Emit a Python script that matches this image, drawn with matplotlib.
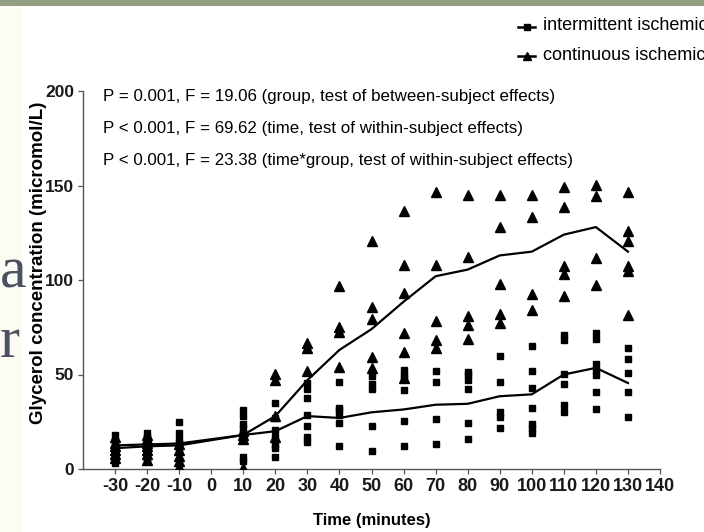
import matplotlib
matplotlib.use("Agg")
import matplotlib.pyplot as plt
from matplotlib.lines import Line2D
from matplotlib.patches import Rectangle

# ---------------- data ----------------
times = [-30, -20, -10, 10, 20, 30, 40, 50, 60, 70, 80, 90, 100, 110, 120, 130]

mean_intermittent = [11, 12, 12.5, 18, 20, 28, 27, 30, 31.5, 34, 34.5, 38.5, 39.5, 50, 53.5, 45.5]
mean_continuous = [12.5, 13, 13.5, 18, 28, 47, 63, 74, 88.5, 102, 105.5, 113, 115, 124, 128, 115]

points_intermittent = [
    [18, 15, 13, 11, 9, 7, 5, 3],
    [19, 17, 15, 13, 11, 9, 6, 4],
    [25, 19, 16, 14, 12, 10],
    [31, 28, 24, 21.5, 19, 17, 6.5, 4],
    [35, 27, 20.5, 17, 12.5, 11, 6.5],
    [45.5, 42.5, 37.5, 28.5, 22.5, 17, 14.5],
    [46, 32.5, 31, 28.5, 24.5, 12],
    [49, 45, 42.5, 23, 9.5],
    [52.5, 50, 48, 42, 25.5, 12],
    [52, 46, 26.5, 13],
    [51.5, 49.5, 47, 42.5, 24.5, 16],
    [60, 46, 30, 27.5, 21.5],
    [65, 52, 43, 32.5, 24, 21.5, 19],
    [71, 68, 50.5, 45, 34, 30],
    [72, 69, 55.5, 52.5, 50, 41, 32],
    [64, 58, 51, 41, 27.5],
]

points_continuous = [
    [17, 14, 12, 10, 8, 6],
    [18, 16, 14, 12, 10, 8, 5],
    [13, 10, 7, 4, 1],
    [20, 18, 16, 0.5],
    [50.5, 47, 28, 17],
    [66.5, 64, 52],
    [97, 75, 72.5, 54],
    [120.5, 85.5, 79.5, 59, 53.5],
    [136.5, 108, 93, 72, 62, 48],
    [146.5, 108, 78.5, 68.5, 64],
    [145, 112, 81, 76, 69],
    [145, 128, 98, 82, 77],
    [145, 133.5, 92.5, 84],
    [149, 138.5, 107.5, 103, 91.5],
    [150.5, 144.5, 111.5, 97.5],
    [146.5, 126, 120.5, 107.5, 104.5, 81.5],
]

xticks = list(range(-30, 141, 10))
yticks = [0, 50, 100, 150, 200]
stats_lines = [
    "P = 0.001, F = 19.06 (group, test of between-subject effects)",
    "P < 0.001, F = 69.62 (time, test of within-subject effects)",
    "P < 0.001, F = 23.38 (time*group, test of within-subject effects)",
]
legend_labels = ["intermittent ischemic", "continuous ischemic"]

# ---------------- figure ----------------
W, H = 704, 532
fig = plt.figure(figsize=(W / 100, H / 100), dpi=100)
fig.patch.set_facecolor("white")

# slide decorations
fig.add_artist(Rectangle((0, 1 - 6 / H), 1, 6 / H, transform=fig.transFigure,
                         facecolor="#939f83", edgecolor="none", zorder=0))
fig.add_artist(Rectangle((0, 0), 22 / W, 1 - 6 / H, transform=fig.transFigure,
                         facecolor="#fdfcf4", edgecolor="none", zorder=0))
for txt, ypx in [("a", 273), ("r", 343)]:
    fig.text(0 / W, 1 - ypx / H, txt, fontsize=43, family="Liberation Serif",
             color="#4a5262", ha="left", va="center")

ax = fig.add_axes([83 / W, 63 / H, (660 - 83) / W, (469 - 91) / H])
ax.set_facecolor("none")

sans = "Liberation Sans"

# scatter points
xi, yi, xc, yc = [], [], [], []
for t, pts in zip(times, points_intermittent):
    xi += [t] * len(pts)
    yi += pts
for t, pts in zip(times, points_continuous):
    xc += [t] * len(pts)
    yc += pts
ax.plot(xi, yi, linestyle="none", marker="s", markersize=5, color="black", zorder=3)
ax.plot(xc, yc, linestyle="none", marker="^", markersize=7, color="black", zorder=3)

# mean lines
ax.plot(times, mean_intermittent, color="black", lw=1.6, zorder=4)
ax.plot(times, mean_continuous, color="black", lw=1.6, zorder=4)

ax.set_xlim(-40, 140)
ax.set_ylim(0, 200)
ax.set_xticks(xticks)
ax.set_yticks(yticks)
ax.set_xticklabels([str(t) for t in xticks], fontsize=13, fontweight="bold", family=sans,
                   color="#1a1a1a")
ax.set_yticklabels([str(v) for v in yticks], fontsize=12.5, fontweight="bold", family=sans,
                   color="#1a1a1a")
ax.tick_params(axis="both", direction="out", length=3.5, width=0.9, colors="#555555",
               labelcolor="#1a1a1a", pad=3)
for s in ["top", "right"]:
    ax.spines[s].set_visible(False)
for s in ["left", "bottom"]:
    ax.spines[s].set_color("#555555")
    ax.spines[s].set_linewidth(1.0)

ax.set_ylabel("Glycerol concentration (micromol/L)", fontsize=13.5, fontweight="bold",
              family=sans, va="center")
ax.yaxis.set_label_coords((39 - 83) / 577, (469 - 263) / 378)
ax.set_xlabel("Time (minutes)", fontsize=12, fontweight="bold", family=sans, va="center")
ax.xaxis.set_label_coords(0.5, (469 - 521) / 378)

# statistics text
for txt, ypx in zip(stats_lines, [97, 129, 161]):
    fig.text(103 / W, 1 - ypx / H, txt, fontsize=12.2, family=sans, color="black",
             ha="left", va="center")

# legend (cut off at figure edge)
for lab, ypx, mk, ms in zip(legend_labels, [27, 56], ["s", "^"], [4, 5.5]):
    fig.add_artist(Line2D([518 / W, 535 / W], [1 - ypx / H, 1 - ypx / H],
                          transform=fig.transFigure, color="black", lw=1.8))
    fig.add_artist(Line2D([526.5 / W], [1 - ypx / H], transform=fig.transFigure,
                          marker=mk, markersize=ms, color="black", linestyle="none"))
    fig.text(543 / W, 1 - (ypx - 1) / H, lab, fontsize=13, family=sans, color="black",
             ha="left", va="center")

fig.savefig("out.png", dpi=100)
